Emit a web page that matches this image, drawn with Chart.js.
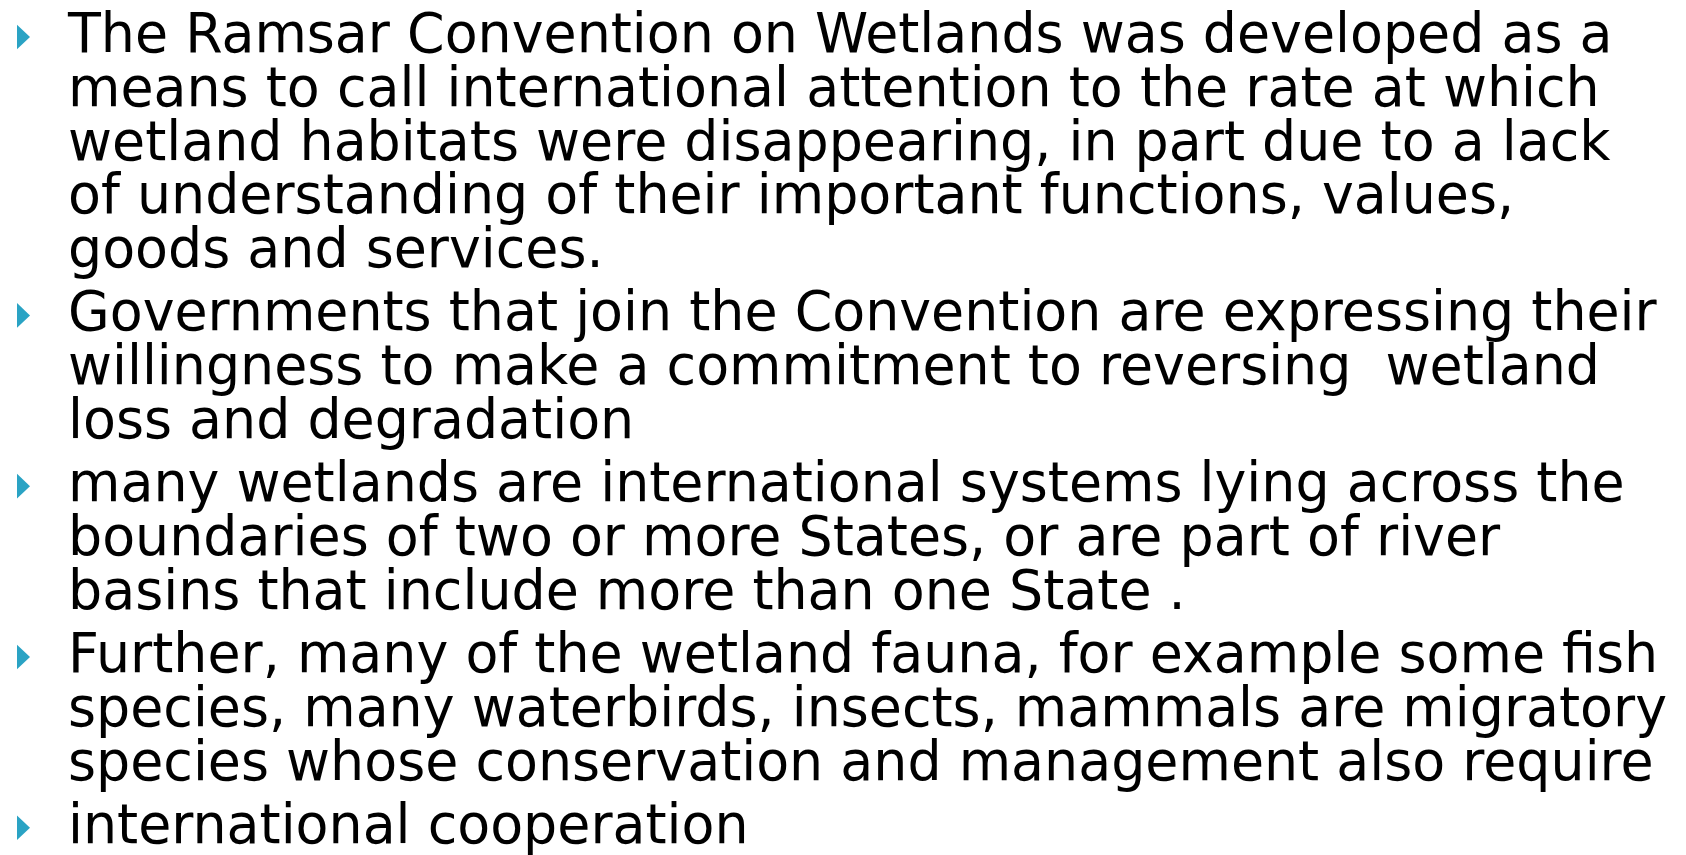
<!DOCTYPE html>
<html>
<head>
<meta charset="utf-8">
<title>Ramsar Convention</title>
<script src="https://cdn.jsdelivr.net/npm/chart.js@4"></script>
<style>
  html, body { margin: 0; padding: 0; background: #fff; }
  body { width: 1686px; height: 855px; overflow: hidden; position: relative; }
  #bullets { position: absolute; left: 0; top: 0; width: 68px; height: 855px; }
  #text {
    position: absolute; left: 68px; top: 0;
    font-family: "DejaVu Sans", sans-serif; font-size: 55px; color: #000;
    line-height: 53.8px; transform-origin: 0 0;
  }
  .para + .para { margin-top: 9.4px; }
  .line { white-space: pre; height: 53.8px; }
  .base { display: inline-block; width: 0; height: 0; vertical-align: baseline; }
</style>
</head>
<body>
<div id="bullets"><canvas id="bulletChart"></canvas></div>
<div id="text"></div>
<script>
// slide text, one array per bullet, one string per line
var para1 = [
  "The Ramsar Convention on Wetlands was developed as a",
  "means to call international attention to the rate at which",
  "wetland habitats were disappearing, in part due to a lack",
  "of understanding of their important functions, values,",
  "goods and services."
];
var para2 = [
  "Governments that join the Convention are expressing their",
  "willingness to make a commitment to reversing  wetland",
  "loss and degradation"
];
var para3 = [
  "many wetlands are international systems lying across the",
  "boundaries of two or more States, or are part of river",
  "basins that include more than one State ."
];
var para4 = [
  "Further, many of the wetland fauna, for example some fish",
  "species, many waterbirds, insects, mammals are migratory",
  "species whose conservation and management also require"
];
var para5 = [
  "international cooperation"
];
var paragraphs = [para1, para2, para3, para4, para5];

var BULLET_COLOR = "#2aa3c4";
var FIRST_BASELINE = 52;
var BLOCK_WIDTH = 1599;

var box = document.getElementById("text");
var firstLines = [];
paragraphs.forEach(function (lines) {
  var p = document.createElement("div");
  p.className = "para";
  lines.forEach(function (txt, i) {
    var l = document.createElement("div");
    l.className = "line";
    l.textContent = txt;
    var b = document.createElement("span");
    b.className = "base";
    l.appendChild(b);
    p.appendChild(l);
    if (i === 0) firstLines.push(b);
  });
  box.appendChild(p);
});

// fit widest line to the slide width, put first baseline in place
var widest = 0;
box.querySelectorAll(".line").forEach(function (l) {
  var r = document.createRange();
  r.selectNodeContents(l.firstChild);
  widest = Math.max(widest, r.getBoundingClientRect().width);
});
box.style.transform = "scaleX(" + (BLOCK_WIDTH / widest) + ")";
var b0 = firstLines[0].getBoundingClientRect().bottom;
box.style.top = (FIRST_BASELINE - b0) + "px";

// one bullet per paragraph, vertically on its first line
var bulletData = firstLines.map(function (b) {
  return { x: 23.5, y: b.getBoundingClientRect().bottom - 15 };
});

// narrow right-pointing triangle at each point
var arrowBullets = {
  id: 'arrowBullets',
  afterDatasetsDraw: function (chart) {
    var ctx = chart.ctx;
    ctx.save();
    ctx.fillStyle = BULLET_COLOR;
    chart.getDatasetMeta(0).data.forEach(function (pt) {
      ctx.beginPath();
      ctx.moveTo(pt.x - 6.5, pt.y - 12.3);
      ctx.lineTo(pt.x + 6.5, pt.y);
      ctx.lineTo(pt.x - 6.5, pt.y + 12.3);
      ctx.closePath();
      ctx.fill();
    });
    ctx.restore();
  }
};

new Chart(document.getElementById("bulletChart"), {
  type: 'scatter',
  data: {
    datasets: [{
      data: bulletData,
      pointRadius: 0,
      clip: false
    }]
  },
  options: {
    responsive: true,
    maintainAspectRatio: false,
    animation: false,
    events: [],
    layout: { padding: 0, autoPadding: false },
    plugins: { legend: { display: false }, tooltip: { enabled: false } },
    scales: {
      x: { type: 'linear', min: 0, max: 68, display: false },
      y: { type: 'linear', min: 0, max: 855, reverse: true, display: false }
    }
  },
  plugins: [arrowBullets]
});
</script>
</body>
</html>
